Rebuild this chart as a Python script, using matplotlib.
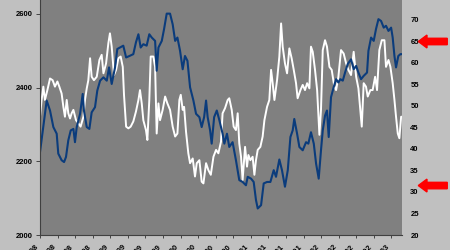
import matplotlib
matplotlib.use("Agg")
import matplotlib.pyplot as plt
import matplotlib.patches as mpatches
import matplotlib.transforms as mtransforms

# ----------------------------
# Data (x in tick periods)
# ----------------------------
index_x = [
    0.00, 0.38, 0.57, 0.76, 0.95, 1.04, 1.23, 1.37, 1.48, 1.61, 1.75, 1.90, 1.99,
    2.09, 2.28, 2.43, 2.50, 2.66, 2.81, 2.94, 3.13, 3.26, 3.42, 3.61, 3.80, 3.93,
    4.08, 4.27, 4.40, 4.55, 4.74, 4.90, 5.09, 5.31, 5.46, 5.60, 5.73, 5.88, 6.07,
    6.22, 6.36, 6.55, 6.64, 6.74, 6.93, 7.06, 7.21, 7.40, 7.55, 7.69, 7.82, 7.97,
    8.12, 8.25, 8.39, 8.54, 8.73, 8.88, 9.07, 9.20, 9.34, 9.45, 9.54, 9.68, 9.77,
    9.91, 10.06, 10.21, 10.30, 10.39, 10.49, 10.64, 10.77, 10.96, 11.15, 11.34,
    11.53, 11.72, 11.82, 12.01, 12.16, 12.29, 12.39, 12.58, 12.73, 12.92, 13.11,
    13.30, 13.43, 13.62, 13.77, 13.94, 14.10, 14.25, 14.38, 14.47, 14.63, 14.76,
    14.95, 15.14, 15.27, 15.42, 15.58, 15.71, 15.86, 15.99, 16.09, 16.22, 16.33,
    16.43, 16.56, 16.71, 16.85, 16.98, 17.09, 17.23, 17.36, 17.51, 17.70, 17.85,
    17.99, 18.12, 18.27, 18.42, 18.61, 18.69, 18.84, 18.99, 19.12, 19.26, 19.41,
    19.56, 19.69, 19.83, 19.98, 20.07, 20.17, 20.26, 20.39, 20.51, 20.60,
]
index_values = [
    2225, 2365, 2338, 2293, 2275, 2221, 2203, 2198, 2212, 2257, 2284, 2288, 2252,
    2293, 2329, 2383, 2338, 2293, 2288, 2333, 2347, 2392, 2419, 2428, 2419, 2455,
    2410, 2455, 2505, 2509, 2514, 2482, 2486, 2491, 2523, 2545, 2509, 2518, 2514,
    2545, 2536, 2527, 2446, 2509, 2527, 2559, 2601, 2601, 2572, 2527, 2536, 2500,
    2450, 2486, 2473, 2401, 2365, 2329, 2320, 2293, 2320, 2365, 2320, 2284, 2248,
    2320, 2338, 2311, 2293, 2275, 2248, 2275, 2239, 2252, 2203, 2149,
    2144, 2135, 2158, 2153, 2144, 2095, 2072, 2081, 2140, 2144, 2144,
    2176, 2158, 2205, 2176, 2131, 2176, 2266, 2284, 2315, 2275, 2239,
    2230, 2252, 2248, 2279, 2248, 2194, 2153, 2230, 2284, 2324, 2338,
    2266, 2374, 2401, 2423, 2414, 2423, 2419, 2441, 2464, 2477, 2450,
    2459, 2441, 2423, 2432, 2441, 2500, 2536, 2527, 2559, 2586, 2581,
    2563, 2568, 2554, 2563, 2536, 2486, 2455, 2486, 2491, 2491,
]

indicator_x = [
    0.00, 0.09, 0.19, 0.28, 0.42, 0.57, 0.72, 0.85, 0.99, 1.10, 1.23, 1.33, 1.42,
    1.52, 1.61, 1.71, 1.80, 1.90, 2.05, 2.18, 2.31, 2.47, 2.56, 2.66, 2.75, 2.85,
    2.94, 3.07, 3.23, 3.38, 3.51, 3.61, 3.76, 3.89, 3.98, 4.08, 4.21, 4.33, 4.46,
    4.59, 4.71, 4.78, 4.90, 5.03, 5.16, 5.31, 5.46, 5.60, 5.69, 5.79, 5.88, 6.03,
    6.11, 6.22, 6.30, 6.45, 6.55, 6.64, 6.74, 6.83, 6.98, 7.12, 7.25, 7.40, 7.55,
    7.69, 7.82, 7.93, 8.01, 8.12, 8.20, 8.31, 8.44, 8.54, 8.69, 8.82, 8.92, 9.07,
    9.20, 9.30, 9.45, 9.58, 9.72, 9.87, 10.02, 10.15, 10.30, 10.39, 10.53, 10.68,
    10.77, 10.91, 11.02, 11.15, 11.25, 11.34, 11.44, 11.53, 11.67, 11.78, 11.86,
    11.97, 12.10, 12.20, 12.29, 12.39, 12.54, 12.67, 12.77, 12.92, 13.05, 13.15,
    13.24, 13.34, 13.49, 13.62, 13.72, 13.81, 13.94, 14.06, 14.19, 14.32, 14.44,
    14.57, 14.66, 14.82, 14.95, 15.08, 15.20, 15.33, 15.42, 15.52, 15.65, 15.77,
    15.90, 15.99, 16.09, 16.22, 16.33, 16.47, 16.60, 16.75, 16.85, 16.98, 17.13,
    17.28, 17.42, 17.55, 17.70, 17.85, 17.99, 18.12, 18.23, 18.31, 18.42, 18.55,
    18.65, 18.80, 18.93, 19.07, 19.18, 19.31, 19.45, 19.60, 19.69, 19.83, 19.94,
    20.07, 20.17, 20.26, 20.36, 20.45, 20.55, 20.60,
]
indicator_values = [
    47.5, 51.4, 54.5, 51.4, 53.7, 56.4, 56.0, 54.5, 55.7, 54.5, 52.9, 49.8, 47.5,
    51.4, 48.3, 47.1, 48.3, 49.1, 46.7, 46.0, 45.2, 47.5, 51.4, 54.1, 56.0, 61.1,
    56.8, 56.0, 56.8, 60.7, 61.9, 57.6, 59.9, 64.6, 66.9, 63.8, 57.2, 58.4, 61.1,
    61.5, 59.1, 52.6, 45.2, 44.8, 45.2, 46.4, 48.7, 51.4, 53.7, 50.6, 46.7, 44.4,
    42.1, 51.4, 61.5, 61.5, 59.1, 43.6, 50.6, 46.7, 49.1, 52.2, 50.6, 49.1, 45.2,
    42.9, 43.6, 51.4, 52.6, 49.1, 49.8, 44.0, 39.0, 36.7, 37.8, 33.6, 36.7, 37.4,
    32.4, 32.0, 36.7, 35.1, 34.0, 38.2, 39.8, 39.0, 41.7, 48.3, 49.5, 51.4,
    51.8, 49.1, 45.2, 44.4, 48.3, 41.3, 38.2, 32.8, 40.5, 35.9, 38.6,
    37.4, 38.2, 34.0, 37.4, 39.8, 40.5, 42.9, 46.7, 49.8, 51.4, 58.4,
    55.3, 51.4, 56.0, 61.5, 69.2, 63.8, 59.9, 57.6, 63.4, 61.1, 58.4,
    55.3, 51.8, 53.7, 54.9, 53.7, 55.3, 54.1, 63.8, 62.6, 58.4, 53.7,
    43.3, 49.1, 63.0, 65.3, 63.8, 59.1, 58.4, 54.5, 53.7, 56.8, 63.0,
    62.2, 59.9, 58.4, 57.2, 62.6, 56.8, 54.1, 49.1, 45.2, 55.3, 54.5,
    52.2, 53.7, 53.7, 56.8, 53.7, 63.0, 65.3, 65.3, 59.1, 60.7, 59.1,
    55.3, 51.4, 47.5, 43.6, 42.5, 47.5, 47.5,
]

x_ticks = list(range(21))
x_labels = [
    "Jan-98", "Apr-98", "Jul-98", "Oct-98", "Jan-99", "Apr-99", "Jul-99",
    "Oct-99", "Jan-00", "Apr-00", "Jul-00", "Oct-00", "Jan-01", "Apr-01",
    "Jul-01", "Oct-01", "Jan-02", "Apr-02", "Jul-02", "Oct-02", "Jan-03",
]
left_ticks = [2000, 2200, 2400, 2600]
right_ticks = [20, 25, 30, 35, 40, 45, 50, 55, 60, 65, 70]
arrow_levels = [65, 31.5]

# ----------------------------
# Plot
# ----------------------------
plt.rcParams["font.family"] = ["Liberation Sans", "DejaVu Sans"]

fig = plt.figure(figsize=(4.5, 2.5), dpi=100, facecolor="#c0c0c0")
ax = fig.add_axes([40 / 450, 15 / 250, 362 / 450, 235 / 250])
ax2 = ax.twinx()

# white indicator behind, blue index on top
ax2.patch.set_visible(True)
ax2.patch.set_facecolor("#808080")
ax2.plot(indicator_x, indicator_values, color="white", lw=1.4)
ax.set_zorder(ax2.get_zorder() + 1)
ax.patch.set_visible(False)
ax.plot(index_x, index_values, color="#0b3c7c", lw=1.5)

ax.set_xlim(0, 20.6)
ax.set_ylim(2000, 2638)
ax2.set_ylim(20, 74.65)

ax.set_yticks(left_ticks)
ax.set_yticklabels([str(v) for v in left_ticks], fontsize=5.5, fontweight="bold")
ax2.set_yticks(right_ticks)
ax2.set_yticklabels([str(v) for v in right_ticks], fontsize=5.5, fontweight="bold")

ax.set_xticks(x_ticks)
ax.set_xticklabels(x_labels, rotation=45, ha="right", fontsize=5.5,
                   fontweight="bold")

ax.tick_params(axis="y", direction="out", length=3, width=0.6,
               color="#303030", pad=2)
ax.tick_params(axis="x", direction="out", length=2, width=0.6,
               color="#303030", pad=4)
ax2.tick_params(axis="y", length=0, pad=6)

for a in (ax, ax2):
    for side in ("top", "right", "left", "bottom"):
        a.spines[side].set_visible(False)
for side in ("left", "bottom"):
    ax.spines[side].set_visible(True)
    ax.spines[side].set_color("#404040")
    ax.spines[side].set_linewidth(0.8)

# ----------------------------
# Red arrows on the right axis
# ----------------------------
trans = mtransforms.blended_transform_factory(ax2.transAxes, ax2.transData)
for level in arrow_levels:
    arrow = mpatches.FancyArrow(
        1.125, level, -0.08, 0,
        width=1.5, head_width=3.0, head_length=0.024,
        length_includes_head=True, transform=trans,
        color="#ff0000", clip_on=False,
    )
    fig.add_artist(arrow)

plt.savefig("out.png", dpi=100, facecolor=fig.get_facecolor())
plt.close()
